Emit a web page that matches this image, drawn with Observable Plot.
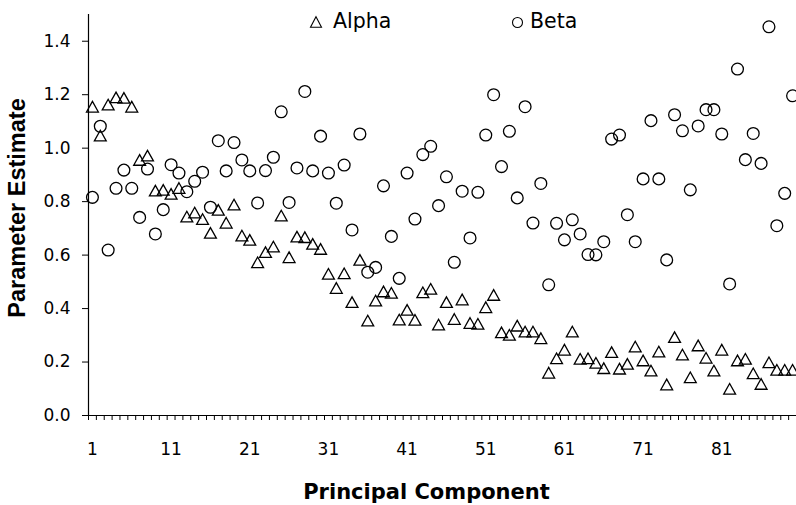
<!DOCTYPE html>
<html><head><meta charset="utf-8">
<script src="https://cdn.jsdelivr.net/npm/d3@7"></script>
<script src="https://cdn.jsdelivr.net/npm/@observablehq/plot@0.6"></script>
<style>
body{margin:0;background:#fff;overflow:hidden}
#wrap{position:relative;width:796px;height:505px}
#legend{position:absolute;left:0;top:0;pointer-events:none}
</style>
</head><body><div id="wrap"></div>
<script>
// Series values (component 1..90)
const alpha = [1.155,1.047,1.163,1.190,1.188,1.155,0.956,0.972,0.841,0.844,
0.829,0.851,0.744,0.759,0.735,0.683,0.769,0.721,0.789,0.673,
0.657,0.573,0.611,0.632,0.748,0.592,0.669,0.667,0.642,0.623,
0.530,0.477,0.532,0.424,0.582,0.355,0.430,0.464,0.459,0.359,
0.395,0.358,0.461,0.474,0.340,0.424,0.361,0.434,0.346,0.343,
0.405,0.451,0.311,0.302,0.336,0.314,0.314,0.289,0.160,0.214,
0.246,0.314,0.212,0.214,0.197,0.177,0.237,0.175,0.193,0.258,
0.206,0.168,0.239,0.116,0.293,0.228,0.143,0.262,0.216,0.168,
0.246,0.100,0.206,0.212,0.158,0.118,0.199,0.171,0.171,0.171];
const beta = [0.816,1.082,0.619,0.850,0.918,0.850,0.741,0.922,0.679,0.770,
0.938,0.907,0.837,0.876,0.910,0.779,1.028,0.915,1.021,0.956,
0.915,0.795,0.916,0.966,1.136,0.797,0.926,1.212,0.915,1.045,
0.907,0.794,0.937,0.694,1.053,0.536,0.554,0.859,0.670,0.513,
0.907,0.735,0.976,1.007,0.785,0.893,0.573,0.839,0.664,0.835,
1.049,1.200,0.931,1.063,0.814,1.155,0.720,0.868,0.489,0.719,
0.657,0.732,0.679,0.602,0.601,0.650,1.034,1.049,0.751,0.650,
0.885,1.103,0.885,0.582,1.125,1.065,0.844,1.083,1.144,1.144,
1.053,0.492,1.296,0.957,1.055,0.943,1.454,0.710,0.831,1.196];
const seriesNames = ["Alpha","Beta"];
const xTickLabels = ["1","11","21","31","41","51","61","71","81"];
const yTicks = [0,0.2,0.4,0.6,0.8,1.0,1.2,1.4];
const xTitle = "Principal Component";
const yTitle = "Parameter Estimate";

const rows = (arr, name) => arr.map((v, i) => ({pc: i + 1, value: v, series: name}));
const boundaries = d3.range(0.5, alpha.length + 1, 1);

const tri = {draw(ctx, size) {
  const s = Math.sqrt(size / Math.PI);
  ctx.moveTo(0, -s); ctx.lineTo(1.12 * s, s); ctx.lineTo(-1.12 * s, s); ctx.closePath();
}};

const font = "DejaVu Sans";
const chart = Plot.plot({
  width: 796, height: 505,
  marginLeft: 88, marginRight: 0, marginTop: 14, marginBottom: 90,
  style: {background: "white", color: "black", fontFamily: font, fontSize: "17px", overflow: "visible"},
  x: {type: "linear", domain: [0.5, alpha.length + 0.5]},
  y: {domain: [0, 1.5]},
  marks: [
    Plot.axisX(boundaries, {tickSize: 5, tickFormat: () => "", label: null, stroke: "black", strokeWidth: 1}),
    Plot.axisY(yTicks, {tickSize: 6, tickFormat: () => "", label: null, stroke: "black", strokeWidth: 1}),
    Plot.text(xTickLabels, {x: d => +d, text: d => d, frameAnchor: "bottom", dy: 34, lineAnchor: "middle", textAnchor: "middle", fontSize: 17, fontFamily: font, fill: "black"}),
    Plot.text(yTicks, {y: d => d, text: d3.format(".1f"), frameAnchor: "left", dx: -18, lineAnchor: "middle", textAnchor: "end", fontSize: 17, fontFamily: font, fill: "black"}),
    Plot.ruleY([0], {stroke: "black", strokeWidth: 1.2}),
    Plot.ruleX([0.5], {stroke: "black", strokeWidth: 1.2}),
    Plot.dot(rows(alpha, seriesNames[0]), {x: "pc", y: "value", symbol: tri, r: 5.3, stroke: "black", strokeWidth: 1.3, fill: "none"}),
    Plot.dot(rows(beta, seriesNames[1]), {x: "pc", y: "value", r: 5.9, stroke: "black", strokeWidth: 1.3, fill: "none"}),
    Plot.text([xTitle], {text: d => d, frameAnchor: "bottom", dx: -16, dy: 77, lineAnchor: "middle", textAnchor: "middle", fontSize: 21, fontWeight: "bold", fontFamily: font, fill: "black"}),
    Plot.text([yTitle], {text: d => d, frameAnchor: "left", dx: -71, dy: -7, rotate: -90, lineAnchor: "middle", textAnchor: "middle", fontSize: 23.5, fontWeight: "bold", fontFamily: "Liberation Sans", fill: "black"})
  ]
});
const wrap = document.getElementById("wrap");
wrap.appendChild(chart);

// Legend overlay
const ns = "http://www.w3.org/2000/svg";
const leg = document.createElementNS(ns, "svg");
leg.setAttribute("id", "legend");
leg.setAttribute("width", 796); leg.setAttribute("height", 40);
leg.innerHTML =
  `<path d="M316,16.8L321.5,27.3L310.5,27.3Z" fill="none" stroke="black" stroke-width="1.1"/>` +
  `<text x="333" y="28" font-family="DejaVu Sans" font-size="20.5" fill="black">${seriesNames[0]}</text>` +
  `<circle cx="517.5" cy="22.5" r="5" fill="none" stroke="black" stroke-width="1.1"/>` +
  `<text x="530" y="28" font-family="DejaVu Sans" font-size="20.5" fill="black">${seriesNames[1]}</text>`;
wrap.appendChild(leg);
</script>
</body></html>
